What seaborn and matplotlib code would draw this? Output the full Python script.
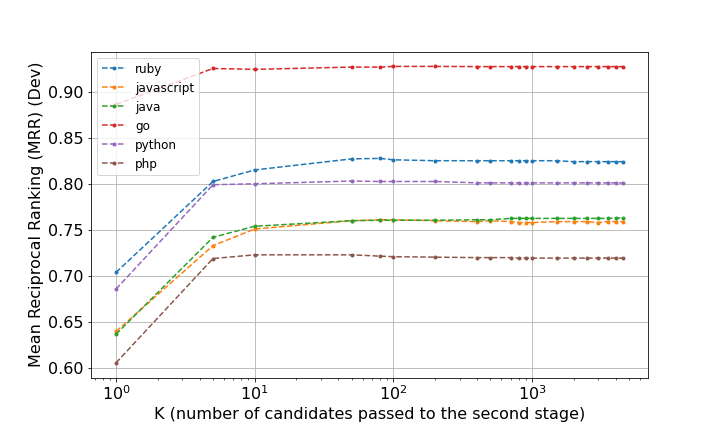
import pandas as pd
import matplotlib
matplotlib.use('Agg')
import matplotlib.pyplot as plt
import seaborn as sns

k_values = [1, 5, 10, 50, 80, 100, 200, 400, 500, 700, 800, 900, 1000,
            1500, 2000, 2500, 3000, 3500, 4000, 4500]

ruby = [0.704, 0.8025, 0.815, 0.827, 0.8275, 0.826, 0.825, 0.825, 0.825, 0.825,
        0.825, 0.825, 0.825, 0.825, 0.824, 0.824, 0.824, 0.824, 0.824, 0.824]
javascript = [0.640, 0.733, 0.751, 0.760, 0.761, 0.761, 0.760, 0.759, 0.760, 0.759,
              0.758, 0.758, 0.758, 0.759, 0.759, 0.759, 0.758, 0.759, 0.759, 0.759]
java = [0.637, 0.742, 0.754, 0.760, 0.7605, 0.7605, 0.7605, 0.761, 0.761, 0.7625,
        0.7625, 0.7625, 0.7625, 0.7625, 0.7625, 0.7625, 0.7625, 0.7625, 0.763, 0.763]
go = [0.886, 0.925, 0.924, 0.9265, 0.9265, 0.9272, 0.9272, 0.927, 0.927, 0.927,
      0.927, 0.927, 0.927, 0.927, 0.927, 0.927, 0.927, 0.927, 0.927, 0.927]
python = [0.686, 0.799, 0.800, 0.803, 0.8025, 0.8025, 0.8025, 0.801, 0.801, 0.801,
          0.801, 0.801, 0.801, 0.801, 0.801, 0.801, 0.801, 0.801, 0.801, 0.801]
php = [0.606, 0.719, 0.723, 0.723, 0.7216, 0.721, 0.7205, 0.720, 0.720, 0.720,
       0.7195, 0.7195, 0.7195, 0.7195, 0.7195, 0.7195, 0.7195, 0.7195, 0.7195, 0.7195]

series = {'ruby': ruby, 'javascript': javascript, 'java': java,
          'go': go, 'python': python, 'php': php}

rows = []
for lang, vals in series.items():
    for k, v in zip(k_values, vals):
        rows.append({'K': k, 'MRR': v, 'lang': lang})
df = pd.DataFrame(rows)

fig, ax = plt.subplots(figsize=(10, 6), dpi=72)
fig.subplots_adjust(left=0.126, right=0.9, bottom=0.126, top=0.88)

palette = sns.color_palette('tab10', 6)
for i, lang in enumerate(series):
    sub = df[df['lang'] == lang]
    sns.lineplot(data=sub, x='K', y='MRR', ax=ax, color=palette[i],
                 linestyle='--', marker='.', markersize=8, markeredgewidth=0,
                 label=lang)

ax.set_xscale('log')
ax.grid(True, which='major', color='#b0b0b0', linewidth=0.8)
ax.set_xlabel('K (number of candidates passed to the second stage)', fontsize=16)
ax.set_ylabel('Mean Reciprocal Ranking (MRR) (Dev)', fontsize=16)
ax.tick_params(axis='both', which='major', labelsize=16)
ax.set_ylim(0.59, 0.943)
ax.legend(loc='upper left', fontsize=12)

fig.savefig('out.png', dpi=72)
